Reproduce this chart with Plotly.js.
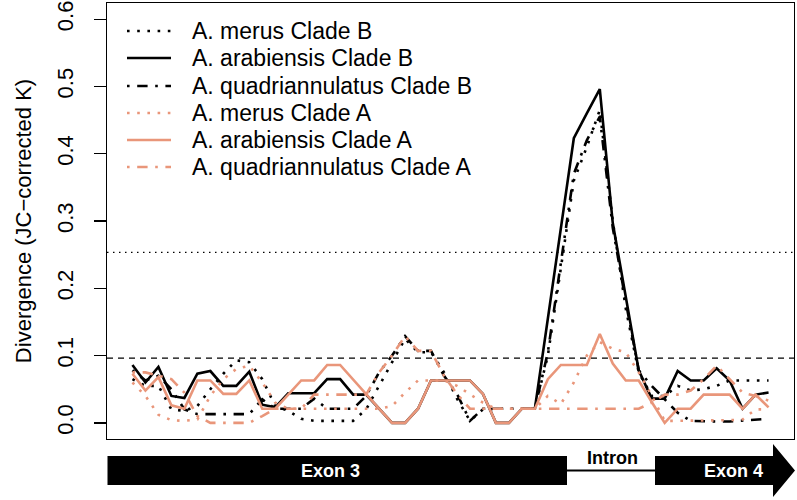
<!DOCTYPE html>
<html>
<head>
<meta charset="utf-8">
<script src="https://cdn.plot.ly/plotly-3.0.1.min.js"></script>
<style>
html,body{margin:0;padding:0;background:#fff;}
#chart{width:797px;height:500px;}
</style>
</head>
<body>
<div id="chart"></div>
<script>
// window index along the gene (1..50)
const windowIndex = Array.from({length: 50}, (_, i) => i + 1);

const seriesNames = [
  "A. merus Clade B",
  "A. arabiensis Clade B",
  "A. quadriannulatus Clade B",
  "A. merus Clade A",
  "A. arabiensis Clade A",
  "A. quadriannulatus Clade A"
];

const merusB = [0.065,0.055,0.055,0.020,0.018,0.025,0.050,0.073,0.093,0.090,
                0.065,0.025,0.018,0.006,0.003,0.003,0.003,0.003,0.020,0.055,
                0.090,0.125,0.105,0.105,0.075,0.036,0.003,0.020,0.021,0.021,
                0.021,0.021,0.100,0.230,0.360,0.410,0.465,0.300,0.170,0.075,
                0.040,0.040,0.055,0.048,0.050,0.055,0.063,0.063,0.063,0.063];

const arabiensisB = [0.086,0.060,0.083,0.040,0.037,0.073,0.077,0.055,0.055,0.076,
                     0.027,0.023,0.044,0.044,0.044,0.065,0.065,0.042,0.042,0.021,
                     0.000,0.000,0.021,0.063,0.063,0.063,0.063,0.043,0.000,0.000,
                     0.021,0.021,0.155,0.289,0.423,0.460,0.496,0.297,0.190,0.078,
                     0.036,0.036,0.077,0.063,0.063,0.081,0.063,0.021,0.042,0.045];

const quadB = [0.078,0.063,0.070,0.050,0.020,0.013,0.013,0.013,0.013,0.013,
               0.035,0.021,0.021,0.021,0.036,0.021,0.021,0.021,0.040,0.075,
               0.100,0.129,0.107,0.107,0.070,0.043,0.003,0.021,0.021,0.021,
               0.021,0.021,0.105,0.240,0.370,0.420,0.455,0.290,0.180,0.078,
               0.055,0.035,0.015,0.003,0.002,0.002,0.002,0.003,0.004,0.006];

const merusA = [0.060,0.040,0.012,0.004,0.003,0.005,0.040,0.065,0.080,0.085,
                0.060,0.030,0.021,0.021,0.021,0.021,0.021,0.021,0.021,0.021,
                0.025,0.045,0.063,0.063,0.063,0.055,0.043,0.030,0.021,0.021,
                0.021,0.021,0.040,0.028,0.060,0.100,0.120,0.110,0.105,0.075,
                0.040,0.003,0.003,0.003,0.003,0.003,0.004,0.005,0.020,0.020];

const arabiensisA = [0.073,0.048,0.068,0.026,0.021,0.063,0.063,0.043,0.043,0.063,
                     0.021,0.021,0.042,0.063,0.063,0.086,0.086,0.064,0.043,0.021,
                     0.000,0.000,0.021,0.063,0.063,0.063,0.063,0.043,0.000,0.000,
                     0.021,0.021,0.065,0.086,0.086,0.086,0.132,0.088,0.063,0.063,
                     0.031,0.000,0.021,0.021,0.042,0.042,0.042,0.021,0.042,0.023];

const quadA = [0.075,0.075,0.070,0.065,0.045,0.010,0.000,0.000,0.000,0.000,
               0.010,0.021,0.021,0.021,0.042,0.042,0.042,0.042,0.042,0.075,
               0.100,0.129,0.107,0.107,0.070,0.043,0.021,0.021,0.021,0.021,
               0.021,0.021,0.021,0.021,0.021,0.021,0.021,0.021,0.021,0.021,
               0.030,0.042,0.042,0.048,0.065,0.085,0.065,0.045,0.040,0.033];

// threshold reference lines
const thresholdDotted = 0.2533;
const thresholdDashed = 0.0963;

const yTicks = [0, 0.1, 0.2, 0.3, 0.4, 0.5, 0.6];
const yTickText = ["0.0","0.1","0.2","0.3","0.4","0.5","0.6"];

const geneLabels = ["Exon 3", "Intron", "Exon 4"];

const BLACK = "#000000";
const SALMON = "#E9967A";
const LW = 2.6;
const DOT = "2.6px,7.6px";
const DOTDASH = "2.6px,7.6px,10.4px,7.6px";

const allY = [merusB, arabiensisB, quadB, merusA, arabiensisA, quadA];
const colors = [BLACK, BLACK, BLACK, SALMON, SALMON, SALMON];
const dashes = [DOT, "solid", DOTDASH, DOT, "solid", DOTDASH];

const traces = allY.map((ys, k) => ({
  x: windowIndex, y: ys, type: "scatter", mode: "lines",
  name: seriesNames[k], showlegend: false,
  line: {color: colors[k], width: LW, dash: dashes[k]},
  hoverinfo: "skip"
}));

// layout geometry (pixels -> paper)
const W = 797, H = 500, ML = 107, MR = 3, MT = 3, MB = 61;
const PW = W - ML - MR, PH = H - MT - MB;
const px = x => (x - ML) / PW;
const py = y => (H - MB - y) / PH;

const shapes = [
  {type:"line", xref:"paper", x0:0, x1:1, yref:"y", y0:thresholdDotted, y1:thresholdDotted,
   line:{color:BLACK, width:1.2, dash:"1.5px,4.5px"}},
  {type:"line", xref:"paper", x0:0, x1:1, yref:"y", y0:thresholdDashed, y1:thresholdDashed,
   line:{color:BLACK, width:1.3, dash:"6px,5px"}},
  // gene model
  {type:"rect", xref:"paper", yref:"paper", x0:px(107.5), x1:px(567), y0:py(456), y1:py(485),
   fillcolor:BLACK, line:{width:0}},
  {type:"line", xref:"paper", yref:"paper", x0:px(567), x1:px(656), y0:py(470.5), y1:py(470.5),
   line:{color:BLACK, width:2}},
  {type:"path", xref:"paper", yref:"paper",
   path:`M${px(655)},${py(456)} L${px(773)},${py(456)} L${px(773)},${py(444)} L${px(795)},${py(470.5)} L${px(773)},${py(497)} L${px(773)},${py(485)} L${px(655)},${py(485)} Z`,
   fillcolor:BLACK, line:{width:0}}
];

const geneFont = "Liberation Sans Narrow, Liberation Sans, Arial";
const annotations = [
  {text:geneLabels[0], xref:"paper", yref:"paper", x:px(330), y:py(471), showarrow:false,
   font:{family:geneFont, size:18, color:"#ffffff", weight:"bold"}, xanchor:"center", yanchor:"middle"},
  {text:geneLabels[1], xref:"paper", yref:"paper", x:px(612), y:py(458), showarrow:false,
   font:{family:geneFont, size:18, color:BLACK, weight:"bold"}, xanchor:"center", yanchor:"middle"},
  {text:geneLabels[2], xref:"paper", yref:"paper", x:px(733), y:py(471), showarrow:false,
   font:{family:geneFont, size:18, color:"#ffffff", weight:"bold"}, xanchor:"center", yanchor:"middle"}
];

// legend drawn as line samples + labels
const legendRowsY = [31, 58, 86, 113, 140, 167];
seriesNames.forEach((nm, k) => {
  shapes.push({type:"line", xref:"paper", yref:"paper",
    x0:px(127), x1:px(171), y0:py(legendRowsY[k]), y1:py(legendRowsY[k]),
    line:{color:colors[k], width:LW, dash:dashes[k]}});
  annotations.push({text:nm, xref:"paper", yref:"paper", x:px(190), y:py(legendRowsY[k]),
    xanchor:"left", yanchor:"middle", showarrow:false,
    font:{family:"Liberation Sans, Arial, Helvetica", size:23, color:BLACK}});
});

const layout = {
  width: W, height: H,
  margin: {l: ML, r: MR, t: MT, b: MB, pad: 0},
  paper_bgcolor: "#ffffff", plot_bgcolor: "#ffffff",
  font: {family: "Liberation Sans, Arial, Helvetica", size: 22, color: BLACK},
  showlegend: false,
  xaxis: {range: [1 - 0.04*49, 50 + 0.04*49], showgrid:false, zeroline:false,
          showticklabels:false, ticks:"", showline:true, mirror:true,
          linecolor:BLACK, linewidth:1.3, fixedrange:true},
  yaxis: {range: [-0.024, 0.624], tickvals: yTicks, ticktext: yTickText,
          ticks:"outside", ticklen:12, tickwidth:1.3, tickcolor:BLACK,
          tickangle:-90, ticklabelstandoff:12,
          showgrid:false, zeroline:false, showline:true, mirror:true,
          linecolor:BLACK, linewidth:1.3,
          tickfont:{size:22},
          title:{text:"Divergence (JC\u2212corrected K)", font:{size:22}, standoff:15},
          automargin:false, fixedrange:true},
  shapes: shapes,
  annotations: annotations
};

Plotly.newPlot("chart", traces, layout, {displayModeBar:false, staticPlot:true});
</script>
</body>
</html>
